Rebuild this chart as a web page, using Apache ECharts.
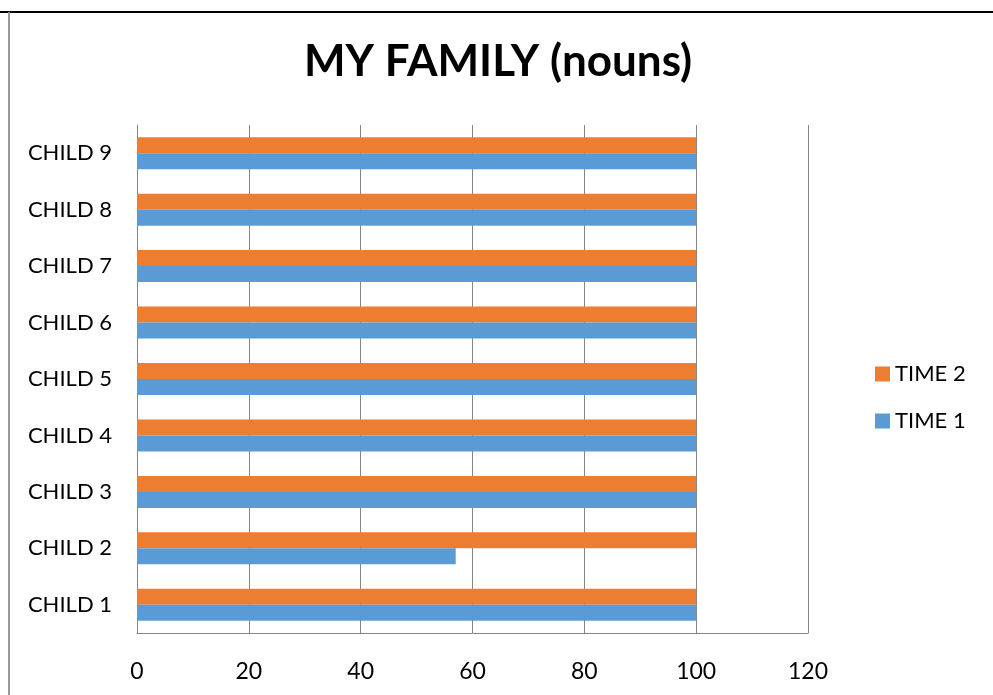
<!DOCTYPE html>
<html>
<head>
<meta charset="utf-8">
<script src="https://cdn.jsdelivr.net/npm/echarts@6/dist/echarts.min.js"></script>
<style>
  html, body { margin: 0; padding: 0; background: #fff; }
  #main { width: 993px; height: 695px; }
</style>
</head>
<body>
<div id="main"></div>
<script>
// chart data
var categories = ['CHILD 1', 'CHILD 2', 'CHILD 3', 'CHILD 4', 'CHILD 5', 'CHILD 6', 'CHILD 7', 'CHILD 8', 'CHILD 9'];
var time1 = [100, 57, 100, 100, 100, 100, 100, 100, 100];
var time2 = [100, 100, 100, 100, 100, 100, 100, 100, 100];
var xTicks = [0, 20, 40, 60, 80, 100, 120];

var myChart = echarts.init(document.getElementById('main'));

var font = 'Lato, "Open Sans", sans-serif';

var option = {
  backgroundColor: '#fff',
  animation: false,
  title: {
    text: 'MY FAMILY (nouns)',
    left: 493,
    top: 35,
    textAlign: 'center',
    textStyle: { fontFamily: font, fontSize: 44, fontWeight: 'bold', color: '#000' }
  },
  legend: {
    data: ['TIME 2', 'TIME 1'],
    orient: 'vertical',
    left: 870,
    top: 358,
    itemWidth: 15,
    itemHeight: 15,
    itemGap: 25,
    icon: 'rect',
    textStyle: { fontFamily: font, fontSize: 22, color: '#000' }
  },
  grid: { left: 137, right: 185, top: 125, bottom: 62, containLabel: false },
  xAxis: {
    type: 'value',
    min: xTicks[0],
    max: xTicks[xTicks.length - 1],
    interval: 20,
    axisLine: { show: true, lineStyle: { color: '#868686' } },
    axisTick: { show: false },
    splitLine: { show: true, lineStyle: { color: '#868686', width: 1 } },
    axisLabel: { fontFamily: font, fontSize: 23, color: '#000', margin: 27 }
  },
  yAxis: {
    type: 'category',
    data: categories,
    axisLine: { show: true, lineStyle: { color: '#868686' } },
    axisTick: { show: false },
    axisLabel: { fontFamily: font, fontSize: 22, color: '#000', margin: 25 }
  },
  graphic: [
    { type: 'line', shape: { x1: 0, y1: 12, x2: 993, y2: 12 }, style: { stroke: '#000', lineWidth: 2 } },
    { type: 'line', shape: { x1: 9, y1: 12, x2: 9, y2: 695 }, style: { stroke: '#999', lineWidth: 2 } }
  ],
  series: [
    {
      name: 'TIME 2',
      type: 'bar',
      data: time2,
      barWidth: 16,
      barGap: '0%',
      itemStyle: { color: '#ED7D31' }
    },
    {
      name: 'TIME 1',
      type: 'bar',
      data: time1,
      barWidth: 16,
      barGap: '0%',
      itemStyle: { color: '#5B9BD5' }
    }
  ]
};

myChart.setOption(option);
</script>
</body>
</html>
